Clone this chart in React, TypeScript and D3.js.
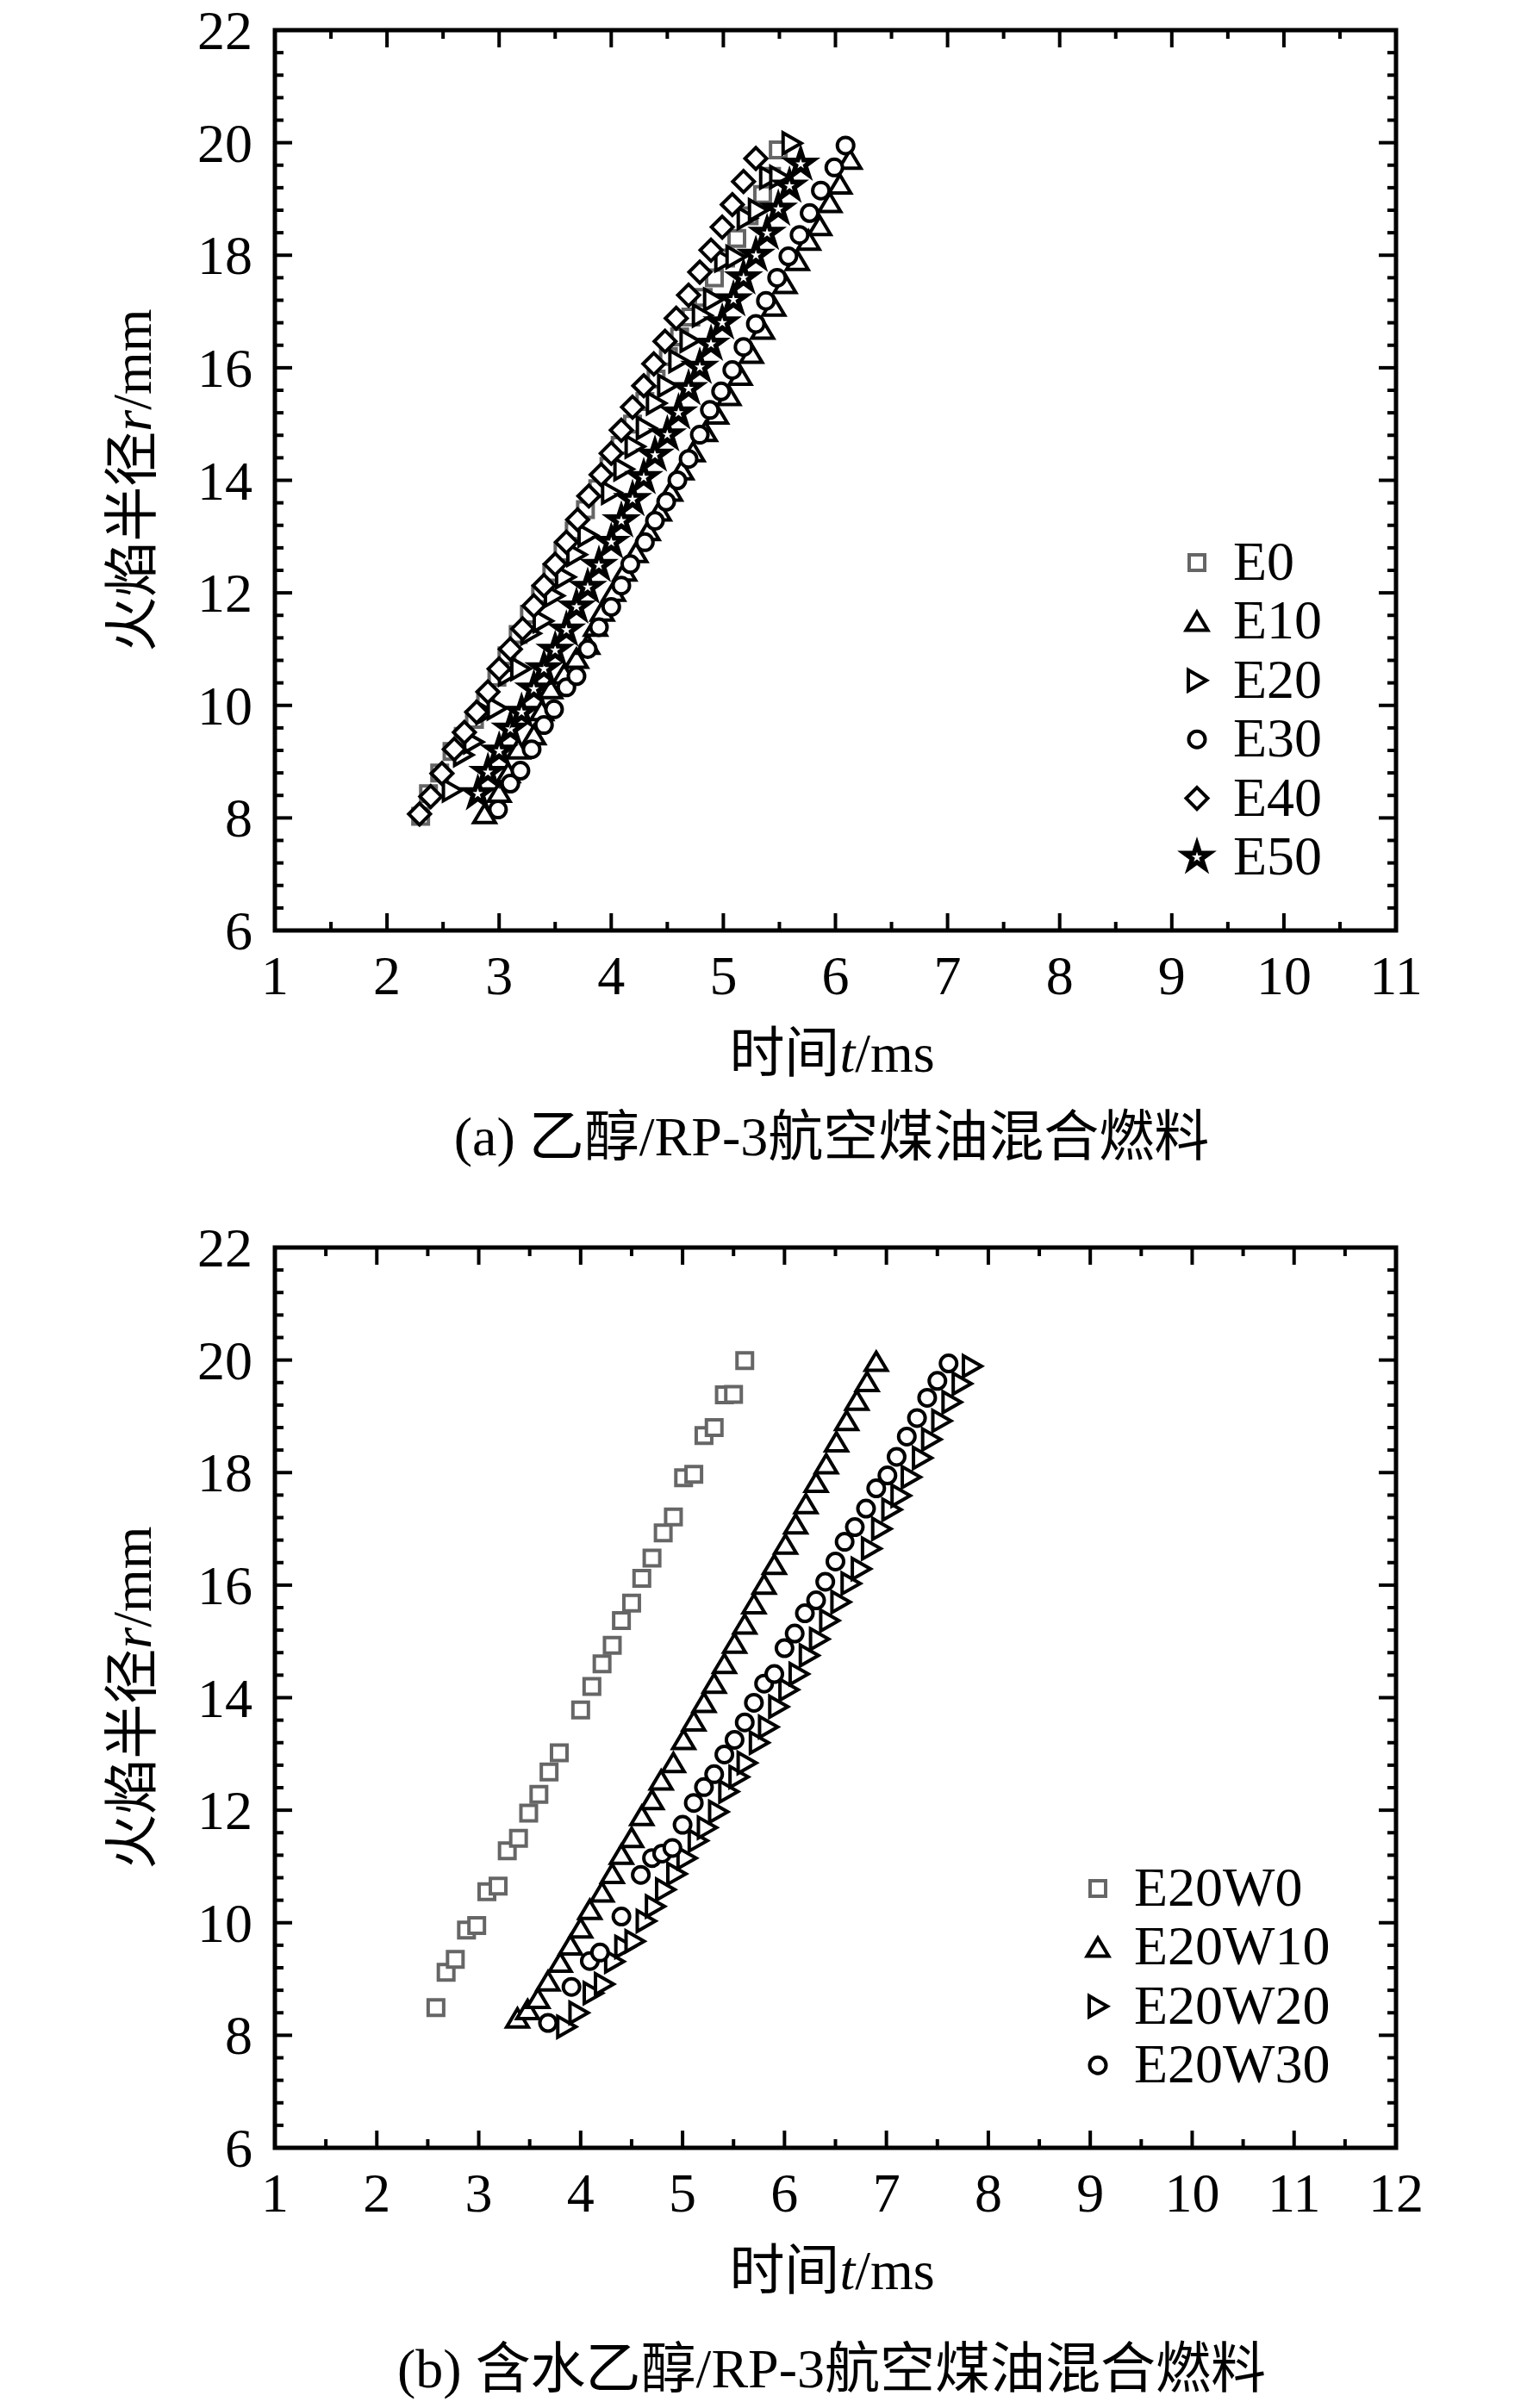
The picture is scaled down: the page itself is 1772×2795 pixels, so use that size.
import * as d3 from "d3"

// ---- panel (a): ethanol / RP-3 blends ----
const e0T = [2.30, 2.37, 2.47, 2.58, 2.68, 2.78, 2.88, 2.98, 3.07, 3.17, 3.27, 3.37, 3.47, 3.57, 3.67, 3.77, 3.88, 3.98, 4.08, 4.19, 4.30, 4.40, 4.51, 4.61, 4.71, 4.82, 4.92, 5.02, 5.12, 5.23, 5.35, 5.43, 5.49]
const e0R = [8.03, 8.43, 8.80, 9.18, 9.45, 9.75, 10.10, 10.50, 10.88, 11.26, 11.62, 11.98, 12.36, 12.72, 13.10, 13.48, 13.85, 14.25, 14.62, 15.00, 15.40, 15.80, 16.20, 16.55, 16.90, 17.25, 17.60, 17.95, 18.30, 18.70, 19.08, 19.40, 19.87]

const e10T = [2.87, 3.00, 3.08, 3.17, 3.31, 3.38, 3.46, 3.58, 3.69, 3.79, 3.86, 3.92, 4.02, 4.12, 4.22, 4.33, 4.43, 4.53, 4.63, 4.73, 4.84, 4.94, 5.05, 5.15, 5.25, 5.35, 5.45, 5.55, 5.66, 5.76, 5.86, 5.95, 6.04, 6.13]
const e10R = [8.07, 8.45, 8.80, 9.22, 9.47, 9.90, 10.29, 10.55, 10.83, 11.08, 11.40, 11.67, 12.02, 12.38, 12.71, 13.10, 13.45, 13.80, 14.18, 14.50, 14.86, 15.17, 15.50, 15.86, 16.25, 16.68, 17.09, 17.49, 17.90, 18.26, 18.52, 18.93, 19.26, 19.70]

// E20 is the same fuel as E20W0 in panel (b)
const e20T = [2.58, 2.68, 2.77, 2.88, 2.98, 3.08, 3.19, 3.28, 3.39, 3.49, 3.59, 3.69, 3.79, 4.00, 4.11, 4.21, 4.31, 4.40, 4.50, 4.60, 4.70, 4.81, 4.91, 5.01, 5.11, 5.21, 5.31, 5.41, 5.50, 5.61]
const e20R = [8.49, 9.12, 9.35, 9.87, 9.95, 10.55, 10.65, 11.28, 11.50, 11.95, 12.28, 12.68, 13.02, 13.78, 14.20, 14.60, 14.93, 15.37, 15.68, 16.12, 16.48, 16.93, 17.21, 17.91, 17.97, 18.66, 18.80, 19.38, 19.39, 19.99]

const e30T = [2.99, 3.10, 3.19, 3.29, 3.40, 3.49, 3.60, 3.69, 3.79, 3.89, 4.00, 4.09, 4.17, 4.30, 4.39, 4.49, 4.59, 4.69, 4.79, 4.88, 4.98, 5.08, 5.18, 5.29, 5.38, 5.48, 5.58, 5.68, 5.77, 5.87, 5.99, 6.09]
const e30R = [8.15, 8.61, 8.84, 9.22, 9.65, 9.93, 10.32, 10.52, 11.00, 11.39, 11.75, 12.13, 12.51, 12.90, 13.28, 13.62, 14.00, 14.38, 14.81, 15.25, 15.58, 15.96, 16.37, 16.78, 17.19, 17.60, 17.98, 18.36, 18.75, 19.15, 19.56, 19.95]

const e40T = [2.29, 2.39, 2.49, 2.60, 2.69, 2.80, 2.90, 3.00, 3.10, 3.21, 3.31, 3.40, 3.50, 3.60, 3.70, 3.80, 3.91, 4.00, 4.09, 4.19, 4.29, 4.38, 4.48, 4.58, 4.69, 4.79, 4.89, 4.99, 5.08, 5.18, 5.29]
const e40R = [8.07, 8.38, 8.79, 9.22, 9.52, 9.88, 10.24, 10.65, 11.00, 11.36, 11.77, 12.13, 12.51, 12.90, 13.30, 13.72, 14.10, 14.48, 14.89, 15.30, 15.68, 16.07, 16.47, 16.88, 17.29, 17.70, 18.09, 18.50, 18.90, 19.31, 19.72]

const e50T = [2.81, 2.90, 3.00, 3.10, 3.20, 3.31, 3.40, 3.50, 3.60, 3.69, 3.79, 3.89, 4.00, 4.09, 4.19, 4.29, 4.39, 4.50, 4.60, 4.69, 4.79, 4.89, 4.99, 5.09, 5.18, 5.29, 5.39, 5.49, 5.59, 5.69]
const e50R = [8.43, 8.81, 9.19, 9.58, 9.88, 10.29, 10.65, 10.98, 11.34, 11.75, 12.10, 12.49, 12.90, 13.28, 13.66, 14.05, 14.45, 14.81, 15.20, 15.63, 16.01, 16.42, 16.80, 17.21, 17.60, 18.00, 18.39, 18.82, 19.23, 19.62]

// ---- panel (b): hydrous ethanol / RP-3 blends ----
const w10T = [3.38, 3.48, 3.58, 3.68, 3.80, 3.90, 4.00, 4.09, 4.21, 4.31, 4.40, 4.50, 4.60, 4.70, 4.79, 4.91, 5.01, 5.11, 5.21, 5.31, 5.41, 5.51, 5.61, 5.70, 5.80, 5.90, 6.01, 6.11, 6.21, 6.31, 6.41, 6.51, 6.61, 6.71, 6.81, 6.90]
const w10R = [8.30, 8.45, 8.65, 8.96, 9.29, 9.60, 9.90, 10.23, 10.54, 10.87, 11.21, 11.51, 11.90, 12.18, 12.53, 12.84, 13.25, 13.58, 13.91, 14.25, 14.60, 14.96, 15.30, 15.66, 16.01, 16.36, 16.72, 17.08, 17.44, 17.82, 18.15, 18.54, 18.92, 19.28, 19.61, 19.97]

const w20T = [3.86, 3.98, 4.12, 4.23, 4.33, 4.43, 4.53, 4.64, 4.73, 4.83, 4.94, 5.04, 5.15, 5.24, 5.35, 5.45, 5.55, 5.63, 5.75, 5.84, 5.94, 6.04, 6.14, 6.24, 6.34, 6.44, 6.55, 6.65, 6.75, 6.85, 6.95, 7.05, 7.14, 7.24, 7.35, 7.44, 7.54, 7.64, 7.74, 7.84]
const w20R = [8.15, 8.40, 8.75, 8.91, 9.31, 9.57, 9.67, 10.03, 10.29, 10.59, 10.87, 11.15, 11.46, 11.69, 11.97, 12.33, 12.59, 12.84, 13.20, 13.48, 13.84, 14.14, 14.42, 14.75, 15.04, 15.37, 15.70, 16.03, 16.29, 16.65, 17.00, 17.34, 17.59, 17.92, 18.26, 18.59, 18.92, 19.25, 19.58, 19.89]

const w30T = [3.68, 3.91, 4.09, 4.19, 4.40, 4.59, 4.70, 4.80, 4.90, 5.00, 5.11, 5.21, 5.31, 5.41, 5.51, 5.61, 5.70, 5.80, 5.90, 6.00, 6.10, 6.20, 6.31, 6.40, 6.50, 6.59, 6.69, 6.80, 6.90, 7.01, 7.10, 7.20, 7.30, 7.40, 7.50, 7.61]
const w30R = [8.22, 8.86, 9.32, 9.47, 10.11, 10.85, 11.15, 11.23, 11.33, 11.74, 12.13, 12.41, 12.64, 12.99, 13.25, 13.56, 13.91, 14.25, 14.42, 14.88, 15.14, 15.50, 15.73, 16.06, 16.42, 16.77, 17.03, 17.36, 17.72, 17.95, 18.28, 18.64, 18.97, 19.33, 19.63, 19.94]

// tick labels
const xTicksA = [1, 2, 3, 4, 5, 6, 7, 8, 9, 10, 11]
const xTicksB = [1, 2, 3, 4, 5, 6, 7, 8, 9, 10, 11, 12]
const yTicks = [6, 8, 10, 12, 14, 16, 18, 20, 22]

const namesA = ["E0", "E10", "E20", "E30", "E40", "E50"]
const namesB = ["E20W0", "E20W10", "E20W20", "E20W30"]

const FONT = "'Liberation Serif', 'Times New Roman', 'Noto Sans CJK SC', serif"
const GRAY = "#666666"

const starPath = d3.symbol(d3.symbolStar, 260)() as string
const circlePath = d3.symbol(d3.symbolCircle, Math.PI * 9.5 * 9.5)() as string

const SHAPES: Record<string, string> = {
  square: "M-9,-9H9V9H-9Z",
  up: "M0,-11L12.5,10H-12.5Z",
  right: "M-10,-12L11,0L-10,12Z",
  circle: circlePath,
  diamond: "M0,-12.5L12.5,0L0,12.5L-12.5,0Z",
  star: starPath,
}

interface Series {
  name: string
  t: number[]
  r: number[]
  shape: string
  color: string
}

const seriesA: Series[] = [
  { name: namesA[0], t: e0T, r: e0R, shape: "square", color: GRAY },
  { name: namesA[1], t: e10T, r: e10R, shape: "up", color: "#000" },
  { name: namesA[2], t: e20T, r: e20R, shape: "right", color: "#000" },
  { name: namesA[3], t: e30T, r: e30R, shape: "circle", color: "#000" },
  { name: namesA[4], t: e40T, r: e40R, shape: "diamond", color: "#000" },
  { name: namesA[5], t: e50T, r: e50R, shape: "star", color: "#000" },
]

const seriesB: Series[] = [
  { name: namesB[0], t: e20T, r: e20R, shape: "square", color: GRAY },
  { name: namesB[1], t: w10T, r: w10R, shape: "up", color: "#000" },
  { name: namesB[2], t: w20T, r: w20R, shape: "right", color: "#000" },
  { name: namesB[3], t: w30T, r: w30R, shape: "circle", color: "#000" },
]

function Marker({ shape, color, x, y }: { shape: string; color: string; x: number; y: number }) {
  return (
    <path
      d={SHAPES[shape]}
      transform={`translate(${x},${y})`}
      fill="#fff"
      stroke={color}
      strokeWidth={shape === "star" ? 5.5 : 4}
      strokeLinejoin="miter"
    />
  )
}

interface PanelProps {
  top: number
  xMax: number
  xTicks: number[]
  series: Series[]
  legendX: number
  legendY: number
  caption: string
  captionY: number
}

function Panel({ top, xMax, xTicks, series, legendX, legendY, caption, captionY }: PanelProps) {
  const left = 319
  const right = 1620
  const bottom = top + 1045

  const x = d3.scaleLinear().domain([1, xMax]).range([left, right])
  const y = d3.scaleLinear().domain([6, 22]).range([bottom, top])

  // minor ticks: every 0.5 on x, every 0.4 on y
  const xMinor = d3.range(0, (xMax - 1) * 2 + 1).map((i) => 1 + i * 0.5)
  const yMinor = d3.range(0, 41).map((i) => 6 + i * 0.4)

  const tickStroke = { stroke: "#000", strokeWidth: 4 }

  return (
    <g fontFamily={FONT} fill="#000">
      {/* x ticks bottom and top (inward) */}
      {xMinor.map((v, i) => {
        const len = i % 2 === 0 ? 20 : 10
        return (
          <g key={"xt" + i}>
            <line x1={x(v)} x2={x(v)} y1={bottom} y2={bottom - len} {...tickStroke} />
            <line x1={x(v)} x2={x(v)} y1={top} y2={top + len} {...tickStroke} />
          </g>
        )
      })}
      {/* y ticks left and right (inward) */}
      {yMinor.map((v, i) => {
        const len = i % 5 === 0 ? 20 : 10
        return (
          <g key={"yt" + i}>
            <line x1={left} x2={left + len} y1={y(v)} y2={y(v)} {...tickStroke} />
            <line x1={right} x2={right - len} y1={y(v)} y2={y(v)} {...tickStroke} />
          </g>
        )
      })}
      {/* frame */}
      <rect x={left} y={top} width={right - left} height={bottom - top} fill="none" stroke="#000" strokeWidth={5} />

      {/* tick labels */}
      {xTicks.map((v) => (
        <text key={"xl" + v} x={x(v)} y={bottom + 74} fontSize={64} textAnchor="middle">
          {v}
        </text>
      ))}
      {yTicks.map((v) => (
        <text key={"yl" + v} x={left - 26} y={y(v) + 22} fontSize={64} textAnchor="end">
          {v}
        </text>
      ))}

      {/* axis titles */}
      <text x={(left + right) / 2 - 4} y={bottom + 164} fontSize={64} textAnchor="middle">
        时间<tspan fontStyle="italic">t</tspan>/ms
      </text>
      <text
        transform={`translate(${175},${(top + bottom) / 2}) rotate(-90)`}
        fontSize={64}
        textAnchor="middle"
      >
        火焰半径<tspan fontStyle="italic">r</tspan>/mm
      </text>

      {/* data */}
      {series.map((s) => (
        <g key={s.name}>
          {s.t.map((t, i) => (
            <Marker key={i} shape={s.shape} color={s.color} x={x(t)} y={y(s.r[i])} />
          ))}
        </g>
      ))}

      {/* legend */}
      {series.map((s, i) => (
        <g key={"lg" + s.name}>
          <Marker shape={s.shape} color={s.color} x={legendX} y={legendY + i * 68.4} />
          <text x={legendX + 42} y={legendY + i * 68.4 + 20} fontSize={64}>
            {s.name}
          </text>
        </g>
      ))}

      {/* caption */}
      <text x={965} y={captionY} fontSize={64} textAnchor="middle">
        {caption}
      </text>
    </g>
  )
}

export default function App() {
  return (
    <svg
      width={1772}
      height={2795}
      viewBox="0 0 1772 2795"
      style={{ position: "absolute", left: 0, top: 0, background: "#fff" }}
    >
      <rect width={1772} height={2795} fill="#fff" />
      <Panel
        top={35}
        xMax={11}
        xTicks={xTicksA}
        series={seriesA}
        legendX={1389}
        legendY={653}
        caption="(a) 乙醇/RP-3航空煤油混合燃料"
        captionY={1341}
      />
      <Panel
        top={1448}
        xMax={12}
        xTicks={xTicksB}
        series={seriesB}
        legendX={1274}
        legendY={2192}
        caption="(b) 含水乙醇/RP-3航空煤油混合燃料"
        captionY={2771}
      />
    </svg>
  )
}
